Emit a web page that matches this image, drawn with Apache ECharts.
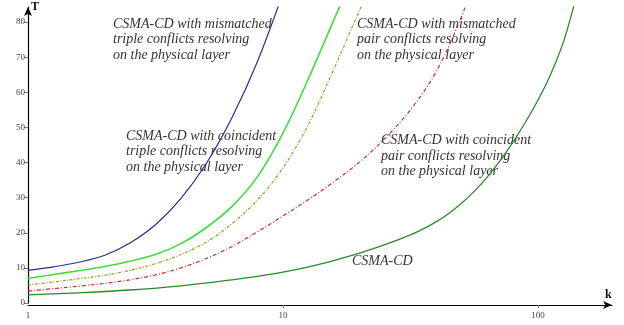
<!DOCTYPE html>
<html>
<head>
<meta charset="utf-8">
<script src="https://cdn.jsdelivr.net/npm/echarts@6/dist/echarts.min.js"></script>
<style>
html,body{margin:0;padding:0;background:#fff;}
#c{width:624px;height:325px;}
</style>
</head>
<body>
<div id="c"></div>
<script>
// Data: k values and T values
const kMismatchedTriple = [1,1.26,1.58,2,2.51,3.16,3.98,5.01,6.31,7.94,10];
const tMismatchedTriple = [9.3,10.3,11.6,13.6,17.1,22.3,29.8,39.8,52.8,68.8,88.3];

const kCoincidentTriple = [1,1.26,1.58,2,2.51,3.16,3.98,5.01,6.31,7.94,10,12.6,15.8,17.8];
const tCoincidentTriple = [7.0,8.1,9.2,10.4,11.9,13.8,16.9,21.5,27.5,36,48.4,64,80.5,89];

const kMismatchedPair = [1,1.26,1.58,2,2.51,3.16,3.98,5.01,6.31,7.94,10,12.6,15.8,20,22.4];
const tMismatchedPair = [5.1,6.0,6.9,7.9,9.3,11.2,13.8,17.4,22.6,29.3,38.5,51,66.5,83.5,91];

const kCoincidentPair = [1,1.26,1.58,2,2.51,3.16,3.98,5.01,6.31,7.94,10,12.6,15.8,20,25.1,31.6,39.8,50.1,56.2];
const tCoincidentPair = [3.4,4.1,4.8,5.6,6.6,8.0,10.0,12.7,16.1,20.3,24.8,29.5,34.5,40.2,46.9,55,65.8,81.5,92];

const kCsma = [1,1.58,2.51,3.98,6.31,7.94,10,12.6,15.8,20,25.1,31.6,35.5,39.8,44.7,50.1,56.2,63.1,70.8,79.4,89.1,100,112,126,141,148];
const tCsma = [2.3,2.9,3.7,4.9,6.6,7.6,8.8,10.3,12.1,14.2,16.6,19.4,21.1,23.1,25.5,28.4,31.8,35.8,40.4,45.6,51.4,57.8,65.1,74.5,87,93];

const yTicks = [0,10,20,30,40,50,60,70,80];
const xTicks = [1,10,100];

const labels = [
  {text:'CSMA-CD with mismatched\ntriple conflicts resolving\non the physical layer', x:113, y:16.5},
  {text:'CSMA-CD with coincident\ntriple conflicts resolving\non the physical layer', x:126, y:128.5},
  {text:'CSMA-CD with mismatched\npair conflicts resolving\non the physical layer', x:357, y:16.5},
  {text:'CSMA-CD with coincident\npair conflicts resolving\non the physical layer', x:381, y:133},
  {text:'CSMA-CD', x:352, y:254}
];

const pairs = (ks, ts) => ks.map((k, i) => [k, ts[i]]);

const chart = echarts.init(document.getElementById('c'), null, {renderer:'canvas'});
const serif = "'Liberation Serif', 'Times New Roman', serif";

function line(name, data, color, type, width){
  return {name, type:'line', data, showSymbol:false, smooth:0.35, clip:true,
    lineStyle:{color, width, type}, itemStyle:{color}, silent:true, animation:false};
}

chart.setOption({
  animation:false,
  grid:{left:28, right:12, top:7, bottom:22},
  xAxis:{type:'log', logBase:10, min:1, max:195, offset:2,
    axisLine:{show:true, onZero:false, lineStyle:{color:'#000', width:1.2}, symbol:['none','arrow'], symbolSize:[6,9]},
    axisTick:{show:true, length:3, customValues:[10,100], lineStyle:{color:'#777'}},
    axisLabel:{customValues:xTicks, fontFamily:serif, fontSize:9, color:'#444', margin:6},
    splitLine:{show:false}, minorTick:{show:false}},
  yAxis:{type:'value', min:0, max:84.3,
    axisLine:{show:true, lineStyle:{color:'#000', width:1.2}, symbol:['none','arrow'], symbolSize:[6,9]},
    axisTick:{show:true, length:4, customValues:yTicks, lineStyle:{color:'#777'}},
    axisLabel:{customValues:yTicks, fontFamily:serif, fontSize:9, color:'#444', margin:3},
    splitLine:{show:false}},
  series:[
    line('mismatched triple', pairs(kMismatchedTriple, tMismatchedTriple), '#2b2b8f', 'solid', 1.2),
    line('coincident triple', pairs(kCoincidentTriple, tCoincidentTriple), '#40dc40', 'solid', 1.6),
    line('mismatched pair', pairs(kMismatchedPair, tMismatchedPair), '#9c9a26', [3,1.5,1,1.5], 1.2),
    line('coincident pair', pairs(kCoincidentPair, tCoincidentPair), '#c83232', [4,2,1,2], 1.2),
    line('CSMA-CD', pairs(kCsma, tCsma), '#2a8a2a', 'solid', 1.3)
  ],
  graphic: labels.map(l => ({type:'text', left:l.x, top:l.y, silent:true,
      style:{text:l.text, fontFamily:serif, fontStyle:'italic', fontSize:14, fill:'#333', lineHeight:15.5}}))
    .concat([
      {type:'text', left:31, top:1, style:{text:'T', fontFamily:serif, fontWeight:'bold', fontSize:12, fill:'#111'}},
      {type:'text', left:605, top:289, style:{text:'k', fontFamily:serif, fontWeight:'bold', fontSize:12, fill:'#111'}}
    ])
});
</script>
</body>
</html>
